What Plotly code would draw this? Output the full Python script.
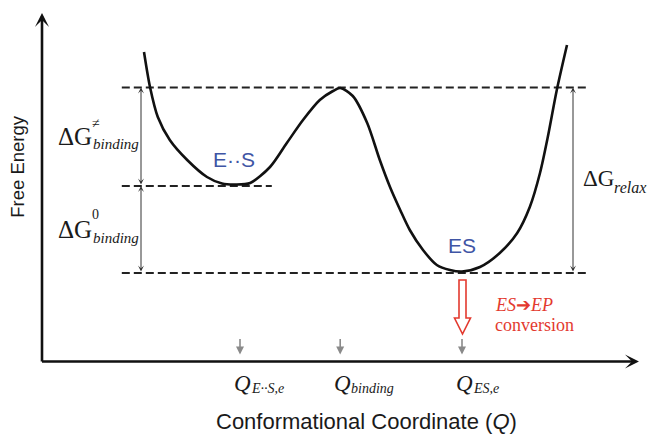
import plotly.graph_objects as go

# ---- data -----------------------------------------------------------------
# Free-energy profile G(Q) along the conformational coordinate (arbitrary units)
profile_q = [1.70, 1.80, 1.93, 2.13, 2.42, 2.75, 3.00, 3.22, 3.47, 3.80, 4.08,
             4.35, 4.63, 4.85, 4.97, 5.18, 5.42, 5.63, 5.80, 5.97, 6.13, 6.35,
             6.58, 6.80, 7.00, 7.30, 7.63, 7.92, 8.13, 8.30, 8.43, 8.58, 8.75]
profile_g = [22.1, 18.6, 15.6, 13.3, 11.3, 9.6, 8.95, 8.85, 9.0, 10.6, 13.0,
             15.3, 17.3, 18.2, 18.5, 17.7, 15.0, 11.3, 8.6, 6.3, 4.3, 2.3,
             0.8, 0.3, 0.15, 0.6, 2.0, 4.0, 6.6, 10.0, 13.6, 18.3, 22.8]

# Reference energy levels (dashed lines)
level_names = ["ES", "E··S", "barrier"]
level_g = [0.0, 8.7, 18.55]
level_q_start = [1.33, 1.33, 1.33]
level_q_end = [9.13, 3.83, 9.13]

# Characteristic positions on the conformational coordinate
q_mark_pos = [3.30, 4.97, 7.00]
q_mark_main = ["Q", "Q", "Q"]
q_mark_sub = ["E··S,e", "binding", "ES,e"]

# Axis frame
AXIS_Q0, AXIS_Q1 = 0.0, 9.95
AXIS_G0, AXIS_G1 = -8.85, 26.0

# ---- canvas ---------------------------------------------------------------
W, H = 647, 435
X_RANGE = [-0.7, 10.0833]
Y_RANGE = [-16.2, 27.3]
QPX = (X_RANGE[1] - X_RANGE[0]) / W     # Q units per pixel
GPX = (Y_RANGE[1] - Y_RANGE[0]) / H     # G units per pixel

SERIF = "Liberation Serif"
SANS = "Liberation Sans"
INK = "#1a1a1a"
BLUE = "#3f55a5"
RED = "#e33a2f"
GREY = "#8a8a8a"

fig = go.Figure()

# energy-level dashed guides
for q0, q1, g in zip(level_q_start, level_q_end, level_g):
    fig.add_trace(go.Scatter(x=[q0, q1], y=[g, g], mode="lines",
                             line=dict(color="#222222", width=1.8, dash="8px,4px"),
                             hoverinfo="skip", showlegend=False))

# free-energy curve
fig.add_trace(go.Scatter(x=profile_q, y=profile_g, mode="lines",
                         line=dict(color="#111111", width=2.6, shape="spline", smoothing=0.8),
                         hoverinfo="skip", showlegend=False))

ann = []


def arrow(q_tip, g_tip, q_tail, g_tail, width, color, head=3, size=1.0, both=False):
    d = dict(x=q_tip, y=g_tip, ax=q_tail, ay=g_tail, xref="x", yref="y",
             axref="x", ayref="y", text="", showarrow=True, arrowhead=head,
             arrowsize=size, arrowwidth=width, arrowcolor=color,
             standoff=0, startstandoff=0)
    if both:
        d.update(arrowside="end+start", startarrowhead=head, startarrowsize=size)
    ann.append(d)


def label(q, g, text, size, color=INK, family=SERIF, xanchor="left",
          yanchor="middle", angle=0):
    ann.append(dict(x=q, y=g, xref="x", yref="y", text=text, showarrow=False,
                    xanchor=xanchor, yanchor=yanchor, textangle=angle,
                    font=dict(family=family, size=size, color=color)))


# axes with arrow heads
arrow(AXIS_Q0, AXIS_G1, AXIS_Q0, AXIS_G0 - 1.5 * GPX, 2.6, "#111111", head=3, size=0.9)
arrow(AXIS_Q1, AXIS_G0, AXIS_Q0 - 1.5 * QPX, AXIS_G0, 2.6, "#111111", head=3, size=0.9)

# double-headed energy-difference arrows
q_left = 1.65
arrow(q_left, level_g[2], q_left, level_g[1], 1.0, "#333333", head=3, size=1.0, both=True)
arrow(q_left, level_g[1], q_left, level_g[0], 1.0, "#333333", head=3, size=1.0, both=True)
q_right = 8.85
arrow(q_right, level_g[2], q_right, level_g[0], 1.0, "#333333", head=3, size=1.0, both=True)

# Delta G labels
lq = 0.23
mid_bind = (level_g[2] + level_g[1]) / 2
label(lq, mid_bind, "ΔG", 25)
label(lq + 35 * QPX, mid_bind - 7 * GPX, "<i>binding</i>", 15)
label(lq + 34 * QPX, mid_bind + 13 * GPX, "≠", 14)

mid_zero = (level_g[1] + level_g[0]) / 2
label(lq, mid_zero, "ΔG", 25)
label(lq + 35 * QPX, mid_zero - 8 * GPX, "<i>binding</i>", 15)
label(lq + 34 * QPX, mid_zero + 15 * GPX, "0", 14)

mid_relax = (level_g[2] + level_g[0]) / 2
label(8.98, mid_relax + 2 * GPX, "ΔG", 23)
label(8.98 + 31 * QPX, mid_relax - 7 * GPX, "<i>relax</i>", 16)

# state labels
label(3.2, level_g[1] + 27 * GPX, "E··S", 21, color=BLUE, family=SANS, xanchor="center")
label(7.0, level_g[0] + 28 * GPX, "ES", 21, color=BLUE, family=SANS, xanchor="center")

# hollow red arrow: ES -> EP conversion
qa = q_mark_pos[2] + 0.5 * QPX
shaft, head_w = 3.5 * QPX, 8 * QPX
g_top, g_neck, g_tip = level_g[0] - 7 * GPX, level_g[0] - 45 * GPX, level_g[0] - 61 * GPX
path = (f"M {qa - shaft},{g_top} L {qa + shaft},{g_top} L {qa + shaft},{g_neck} "
        f"L {qa + head_w},{g_neck} L {qa},{g_tip} L {qa - head_w},{g_neck} "
        f"L {qa - shaft},{g_neck} Z")
fig.add_shape(type="path", path=path, xref="x", yref="y",
              line=dict(color=RED, width=1.6), fillcolor="white")
label(7.52, level_g[0] - 32 * GPX, "<i>ES</i>➔<i>EP</i>", 18, color=RED)
label(7.52, level_g[0] - 52 * GPX, "conversion", 18, color=RED)

# grey markers on the coordinate axis
for q in q_mark_pos:
    arrow(q, AXIS_G0 + 7 * GPX, q, AXIS_G0 + 24 * GPX, 1.6, GREY, head=2, size=1.0)

for q, m, s in zip(q_mark_pos, q_mark_main, q_mark_sub):
    label(q - 0.13, AXIS_G0 - 22 * GPX, f"<i>{m}</i>", 23)
    label(q - 0.13 + 17 * QPX, AXIS_G0 - 27 * GPX, f"<i>{s}</i>", 14)

# axis titles
label(5.41, AXIS_G0 - 60 * GPX, "Conformational Coordinate (<i>Q</i>)", 22,
      family=SANS, xanchor="center")
label(-0.42, 10.7, "Free Energy", 18.5, family=SANS, xanchor="center", angle=-90)

fig.update_layout(
    width=W, height=H,
    margin=dict(l=0, r=0, t=0, b=0),
    paper_bgcolor="white", plot_bgcolor="white",
    xaxis=dict(range=X_RANGE, visible=False, fixedrange=True),
    yaxis=dict(range=Y_RANGE, visible=False, fixedrange=True),
    annotations=ann,
    showlegend=False,
)

fig.write_html("out.html")
